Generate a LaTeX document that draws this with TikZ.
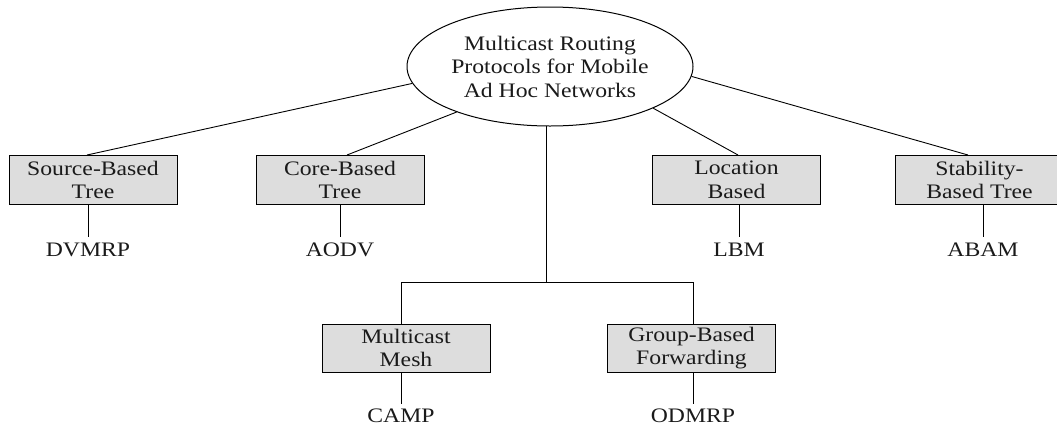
\documentclass[tikz,border=0pt]{standalone}
\usepackage{fontspec}
\setmainfont{Liberation Serif}[FakeStretch=1.15]
\usetikzlibrary{shapes.geometric}
\definecolor{boxgray}{HTML}{DDDDDD}
\definecolor{txt}{HTML}{1A1A1A}
\begin{document}
\begin{tikzpicture}[x=1pt,y=-1pt,
  every node/.style={font=\fontsize{20.6}{23.5}\selectfont, text=txt},
  rootnode/.style={draw, ellipse, line width=1pt, minimum width=286pt, minimum height=119pt, inner sep=0pt, align=center},
  catbox/.style={draw, fill=boxgray, line width=1pt, minimum width=168pt, minimum height=49pt, inner sep=0pt, align=center},
  leaf/.style={inner xsep=0pt, inner ysep=6pt},
  conn/.style={line width=0.9pt}
]
\useasboundingbox (0,0) rectangle (1057,429);

\node[rootnode] (root) at (550,66.5) {Multicast Routing\\Protocols for Mobile\\Ad Hoc Networks};

\node[catbox] (src) at (93,180) {Source-Based\\Tree};
\node[catbox] (core) at (340,180) {Core-Based\\Tree};
\node[catbox] (loc) at (736.5,180) {Location\\Based};
\node[catbox] (stab) at (979.5,180) {Stability-\\Based Tree};
\node[catbox, minimum height=48pt] (mesh) at (406,348) {Multicast\\Mesh};
\node[catbox, minimum height=48pt] (grp) at (691.5,348) {Group-Based\\Forwarding};

\node[leaf] (dvmrp) at (88,250) {DVMRP};
\node[leaf] (aodv) at (340,250) {AODV};
\node[leaf] (lbm) at (739,250) {LBM};
\node[leaf] (abam) at (983,250) {ABAM};
\node[leaf, inner ysep=5pt] (camp) at (401,416) {CAMP};
\node[leaf, inner ysep=5pt] (odmrp) at (693,416) {ODMRP};

\coordinate (rootbot) at (546,125.5);
\coordinate (junc) at (546,282);

\draw[conn] (root.187) -- ([xshift=-6pt]src.north);
\draw[conn] (root.206) -- ([xshift=7pt]core.north);
\draw[conn] (root.338) -- ([xshift=1.5pt]loc.north);
\draw[conn] (root.356) -- ([xshift=-11.5pt]stab.north);

\draw[conn] (rootbot) -- (junc);
\draw[conn] (junc) -| ([xshift=-5pt]mesh.north);
\draw[conn] (junc) -| ([xshift=1.5pt]grp.north);

\draw[conn] (src.south -| dvmrp) -- (dvmrp.north);
\draw[conn] (core.south -| aodv) -- (aodv.north);
\draw[conn] (loc.south -| lbm) -- (lbm.north);
\draw[conn] (stab.south -| abam) -- (abam.north);
\draw[conn] (mesh.south -| camp) -- (camp.north);
\draw[conn] (grp.south -| odmrp) -- (odmrp.north);
\end{tikzpicture}
\end{document}
